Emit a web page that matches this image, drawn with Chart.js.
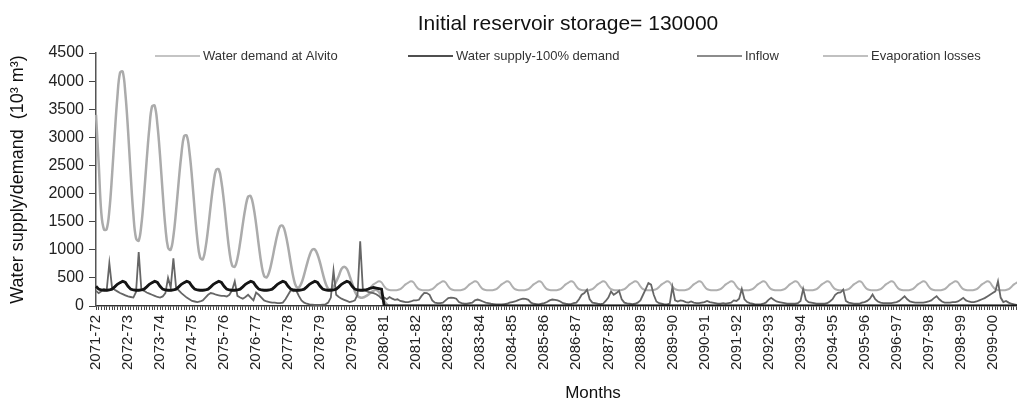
<!DOCTYPE html>
<html>
<head>
<meta charset="utf-8">
<script src="https://cdn.jsdelivr.net/npm/chart.js@4.4.1/dist/chart.umd.min.js"></script>
<style>
  html, body { margin: 0; padding: 0; background: #fff; overflow: hidden; }
  #wrap { width: 1017px; height: 400px; overflow: hidden; }
</style>
</head>
<body>
<div id="wrap"><canvas id="chart" width="1045" height="400"></canvas></div>
<script>
// hydrological years, Oct..Sep
const years = ['2071-72', '2072-73', '2073-74', '2074-75', '2075-76', '2076-77', '2077-78', '2078-79',
  '2079-80', '2080-81', '2081-82', '2082-83', '2083-84', '2084-85', '2085-86', '2086-87', '2087-88',
  '2088-89', '2089-90', '2090-91', '2091-92', '2092-93', '2093-94', '2094-95', '2095-96', '2096-97',
  '2097-98', '2098-99', '2099-00'];
const months = ['Oct', 'Nov', 'Dec', 'Jan', 'Feb', 'Mar', 'Apr', 'May', 'Jun', 'Jul', 'Aug', 'Sep'];

const chartTitle = 'Initial reservoir storage= 130000';

// one row per year (12 months)
const demand = [
  350, 300, 285, 280, 280, 285, 300, 340, 385, 415, 440, 420,
  350, 300, 285, 280, 280, 285, 300, 340, 385, 415, 440, 420,
  350, 300, 285, 280, 280, 285, 300, 340, 385, 415, 440, 420,
  350, 300, 285, 280, 280, 285, 300, 340, 385, 415, 440, 420,
  350, 300, 285, 280, 280, 285, 300, 340, 385, 415, 440, 420,
  350, 300, 285, 280, 280, 285, 300, 340, 385, 415, 440, 420,
  350, 300, 285, 280, 280, 285, 300, 340, 385, 415, 440, 420,
  350, 300, 285, 280, 280, 285, 300, 340, 385, 415, 440, 420,
  350, 300, 285, 280, 280, 285, 300, 340, 385, 415, 440, 420,
  350, 300, 285, 280, 280, 285, 300, 340, 385, 415, 440, 420,
  350, 300, 285, 280, 280, 285, 300, 340, 385, 415, 440, 420,
  350, 300, 285, 280, 280, 285, 300, 340, 385, 415, 440, 420,
  350, 300, 285, 280, 280, 285, 300, 340, 385, 415, 440, 420,
  350, 300, 285, 280, 280, 285, 300, 340, 385, 415, 440, 420,
  350, 300, 285, 280, 280, 285, 300, 340, 385, 415, 440, 420,
  350, 300, 285, 280, 280, 285, 300, 340, 385, 415, 440, 420,
  350, 300, 285, 280, 280, 285, 300, 340, 385, 415, 440, 420,
  350, 300, 285, 280, 280, 285, 300, 340, 385, 415, 440, 420,
  350, 300, 285, 280, 280, 285, 300, 340, 385, 415, 440, 420,
  350, 300, 285, 280, 280, 285, 300, 340, 385, 415, 440, 420,
  350, 300, 285, 280, 280, 285, 300, 340, 385, 415, 440, 420,
  350, 300, 285, 280, 280, 285, 300, 340, 385, 415, 440, 420,
  350, 300, 285, 280, 280, 285, 300, 340, 385, 415, 440, 420,
  350, 300, 285, 280, 280, 285, 300, 340, 385, 415, 440, 420,
  350, 300, 285, 280, 280, 285, 300, 340, 385, 415, 440, 420,
  350, 300, 285, 280, 280, 285, 300, 340, 385, 415, 440, 420,
  350, 300, 285, 280, 280, 285, 300, 340, 385, 415, 440, 420,
  350, 300, 285, 280, 280, 285, 300, 340, 385, 415, 440, 420,
  350, 300, 285, 280, 280, 285, 300, 340, 385, 415, 440, 420
];

const supply = [
  350, 300, 285, 280, 280, 285, 300, 340, 385, 415, 440, 420,
  350, 300, 285, 280, 280, 285, 300, 340, 385, 415, 440, 420,
  350, 300, 285, 280, 280, 285, 300, 340, 385, 415, 440, 420,
  350, 300, 285, 280, 280, 285, 300, 340, 385, 415, 440, 420,
  350, 300, 285, 280, 280, 285, 300, 340, 385, 415, 440, 420,
  350, 300, 285, 280, 280, 285, 300, 340, 385, 415, 440, 420,
  350, 300, 285, 280, 280, 285, 300, 340, 385, 415, 440, 420,
  350, 300, 285, 280, 280, 285, 300, 340, 385, 415, 440, 420,
  350, 300, 285, 280, 280, 285, 300, 320, 330, 320, 310, 300,
  0, 0, 0, 0, 0, 0, 0, 0, 0, 0, 0, 0,
  0, 0, 0, 0, 0, 0, 0, 0, 0, 0, 0, 0,
  0, 0, 0, 0, 0, 0, 0, 0, 0, 0, 0, 0,
  0, 0, 0, 0, 0, 0, 0, 0, 0, 0, 0, 0,
  0, 0, 0, 0, 0, 0, 0, 0, 0, 0, 0, 0,
  0, 0, 0, 0, 0, 0, 0, 0, 0, 0, 0, 0,
  0, 0, 0, 0, 0, 0, 0, 0, 0, 0, 0, 0,
  0, 0, 0, 0, 0, 0, 0, 0, 0, 0, 0, 0,
  0, 0, 0, 0, 0, 0, 0, 0, 0, 0, 0, 0,
  0, 0, 0, 0, 0, 0, 0, 0, 0, 0, 0, 0,
  0, 0, 0, 0, 0, 0, 0, 0, 0, 0, 0, 0,
  0, 0, 0, 0, 0, 0, 0, 0, 0, 0, 0, 0,
  0, 0, 0, 0, 0, 0, 0, 0, 0, 0, 0, 0,
  0, 0, 0, 0, 0, 0, 0, 0, 0, 0, 0, 0,
  0, 0, 0, 0, 0, 0, 0, 0, 0, 0, 0, 0,
  0, 0, 0, 0, 0, 0, 0, 0, 0, 0, 0, 0,
  0, 0, 0, 0, 0, 0, 0, 0, 0, 0, 0, 0,
  0, 0, 0, 0, 0, 0, 0, 0, 0, 0, 0, 0,
  0, 0, 0, 0, 0, 0, 0, 0, 0, 0, 0, 0,
  0, 0, 0, 0, 0, 0, 0, 0, 0, 0, 0, 0
];

const inflow = [
  270, 230, 260, 300, 280, 760, 330, 290, 260, 230, 210, 190,
  170, 160, 150, 250, 960, 290, 270, 240, 220, 200, 180, 160,
  150, 170, 230, 500, 330, 850, 330, 280, 230, 190, 150, 120,
  90, 80, 70, 80, 100, 150, 200, 230, 220, 200, 190, 180,
  180, 170, 200, 280, 440, 180, 150, 130, 160, 200, 150, 100,
  240, 200, 150, 100, 80, 70, 60, 60, 50, 50, 60, 120,
  200, 280, 260, 280, 180, 100, 60, 40, 30, 25, 20, 20,
  20, 25, 30, 60, 150, 630, 200, 160, 130, 110, 90, 70,
  80, 100, 200, 1150, 300, 270, 250, 240, 230, 210, 180, 130,
  150, 120, 160, 130, 110, 120, 90, 80, 70, 70, 80, 100,
  100, 110, 180, 234, 230, 200, 100, 60, 50, 50, 60, 100,
  140, 150, 145, 130, 70, 50, 40, 40, 50, 60, 100, 115,
  100, 80, 60, 50, 40, 35, 30, 30, 30, 35, 40, 60,
  70, 80, 100, 120, 130, 125, 110, 60, 40, 35, 30, 40,
  50, 70, 100, 115, 110, 100, 80, 50, 40, 35, 35, 50,
  60, 120, 200, 230, 290, 120, 60, 50, 40, 35, 40, 90,
  150, 260, 200, 230, 270, 120, 60, 45, 40, 35, 40, 60,
  100, 200, 300, 410, 380, 200, 80, 50, 40, 30, 30, 40,
  340, 100, 80, 100, 90, 70, 60, 80, 60, 50, 50, 60,
  70, 90, 70, 60, 50, 40, 40, 50, 40, 50, 60, 100,
  90, 130, 304, 120, 70, 50, 40, 30, 30, 30, 40, 60,
  110, 145, 110, 80, 70, 60, 50, 40, 40, 40, 40, 50,
  90, 304, 110, 70, 60, 50, 40, 40, 40, 40, 50, 80,
  120, 200, 234, 240, 292, 90, 60, 50, 40, 40, 40, 60,
  70, 90, 130, 203, 120, 80, 60, 50, 50, 50, 50, 60,
  70, 90, 130, 173, 120, 80, 70, 60, 60, 60, 60, 70,
  80, 100, 140, 173, 120, 80, 60, 60, 60, 70, 70, 80,
  110, 145, 100, 80, 70, 70, 80, 100, 120, 140, 170, 200,
  230, 260, 439, 150, 70, 90, 60, 40, 30, 20, 20, 20
];

const evaporation = [
  3400, 2550, 1650, 1360, 1367, 1698, 2313, 3049, 3710, 4150, 4170, 3780,
  3128, 2338, 1633, 1203, 1162, 1445, 1972, 2601, 3167, 3550, 3560, 3230,
  2675, 2003, 1403, 1037, 1002, 1241, 1687, 2220, 2699, 3020, 3030, 2748,
  2271, 1693, 1178, 864, 831, 1020, 1372, 1793, 2171, 2420, 2430, 2209,
  1833, 1377, 970, 722, 697, 845, 1122, 1452, 1749, 1945, 1950, 1769,
  1456, 1078, 741, 535, 512, 620, 821, 1061, 1277, 1420, 1425, 1285,
  1047, 760, 503, 347, 329, 409, 558, 736, 896, 1000, 1005, 916,
  762, 575, 409, 307, 295, 343, 431, 537, 660, 700, 660, 540,
  400, 260, 180, 150, 150, 170, 200, 240, 270, 290, 250, 180,
  90, 30, 0, 0, 0, 0, 0, 0, 0, 0, 0, 0,
  0, 0, 0, 0, 0, 0, 0, 0, 0, 0, 0, 0,
  0, 0, 0, 0, 0, 0, 0, 0, 0, 0, 0, 0,
  0, 0, 0, 0, 0, 0, 0, 0, 0, 0, 0, 0,
  0, 0, 0, 0, 0, 0, 0, 0, 0, 0, 0, 0,
  0, 0, 0, 0, 0, 0, 0, 0, 0, 0, 0, 0,
  0, 0, 0, 0, 0, 0, 0, 0, 0, 0, 0, 0,
  0, 0, 0, 0, 0, 0, 0, 0, 0, 0, 0, 0,
  0, 0, 0, 0, 0, 0, 0, 0, 0, 0, 0, 0,
  0, 0, 0, 0, 0, 0, 0, 0, 0, 0, 0, 0,
  0, 0, 0, 0, 0, 0, 0, 0, 0, 0, 0, 0,
  0, 0, 0, 0, 0, 0, 0, 0, 0, 0, 0, 0,
  0, 0, 0, 0, 0, 0, 0, 0, 0, 0, 0, 0,
  0, 0, 0, 0, 0, 0, 0, 0, 0, 0, 0, 0,
  0, 0, 0, 0, 0, 0, 0, 0, 0, 0, 0, 0,
  0, 0, 0, 0, 0, 0, 0, 0, 0, 0, 0, 0,
  0, 0, 0, 0, 0, 0, 0, 0, 0, 0, 0, 0,
  0, 0, 0, 0, 0, 0, 0, 0, 0, 0, 0, 0,
  0, 0, 0, 0, 0, 0, 0, 0, 0, 0, 0, 0,
  0, 0, 0, 0, 0, 0, 0, 0, 0, 0, 0, 0
];

const FONT = '"Liberation Sans", Arial, Helvetica, sans-serif';
const labels = years.flatMap((y) => months.map((m) => y + ' ' + m));

// legend drawn inside the plot, like the original
const legendX = [155, 408, 697, 823];
const overlay = {
  id: 'overlay',
  afterDraw(chart) {
    const c = chart.ctx;
    c.save();
    c.fillStyle = '#111';
    c.textAlign = 'center';
    c.textBaseline = 'alphabetic';
    c.font = '21px ' + FONT;
    c.fillText(chartTitle, 568, 30);
    c.font = '17px ' + FONT;
    c.fillText('Months', 593, 398);

    c.font = '13px ' + FONT;
    c.textAlign = 'left';
    c.textBaseline = 'middle';
    chart.data.datasets.forEach((ds, k) => {
      const x = legendX[k];
      c.strokeStyle = ds.borderColor;
      c.lineWidth = 1.5;
      c.beginPath();
      c.moveTo(x, 56);
      c.lineTo(x + 45, 56);
      c.stroke();
      c.fillStyle = '#333';
      c.fillText(ds.label, x + 48, 56);
    });
    c.restore();
  },
};

new Chart(document.getElementById('chart'), {
  type: 'line',
  data: {
    labels: labels,
    datasets: [
      { label: 'Water demand at Alvito', data: demand, borderColor: '#b0b0b0', borderWidth: 2, tension: 0.3, order: 3 },
      { label: 'Water supply-100% demand', data: supply, borderColor: '#151515', borderWidth: 2.8, tension: 0, order: 1 },
      { label: 'Inflow', data: inflow, borderColor: '#666666', borderWidth: 1.8, tension: 0, order: 2 },
      { label: 'Evaporation losses', data: evaporation, borderColor: '#ababab', borderWidth: 2.5, tension: 0.4, order: 4 },
    ],
  },
  options: {
    responsive: false,
    animation: false,
    layout: { padding: { top: 53, right: 0, bottom: 0, left: 0 } },
    elements: { point: { radius: 0 } },
    plugins: {
      legend: { display: false },
      title: { display: false },
      tooltip: { enabled: false },
    },
    scales: {
      x: {
        offset: false,
        grid: { display: true, drawOnChartArea: false, tickLength: 4, color: '#444', lineWidth: 1 },
        border: { color: '#333', width: 1.5 },
        ticks: {
          autoSkip: false,
          maxRotation: 90,
          minRotation: 90,
          padding: 5,
          color: '#222',
          font: { family: FONT, size: 15 },
          callback: (v, i) => (i % 12 === 0 ? years[i / 12] : ''),
        },
        afterFit: (s) => { s.height = 94; },
      },
      y: {
        min: 0,
        max: 4500,
        grid: { display: true, drawOnChartArea: false, tickLength: 7, color: '#444' },
        border: { color: '#555', width: 1.5 },
        ticks: {
          stepSize: 500,
          padding: 5,
          color: '#222',
          font: { family: FONT, size: 16 },
          callback: (v) => String(v),
        },
        title: {
          display: true,
          text: 'Water supply/demand  (10³ m³)',
          color: '#111',
          font: { family: FONT, size: 18 },
          padding: { top: 7, bottom: 0 },
        },
        afterFit: (s) => { s.width = 96; },
      },
    },
  },
  plugins: [overlay],
});
</script>
</body>
</html>
